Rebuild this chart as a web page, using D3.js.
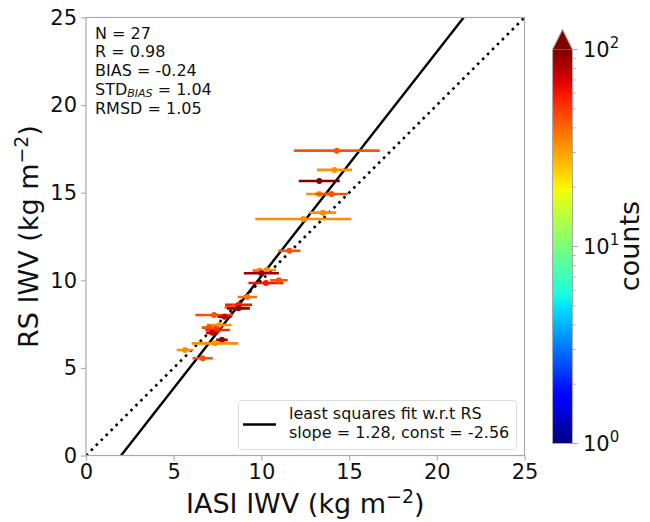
<!DOCTYPE html>
<html><head><meta charset="utf-8">
<script src="https://cdn.jsdelivr.net/npm/d3@7"></script>
<style>body{margin:0;background:#fff}svg{display:block;font-family:"DejaVu Sans",sans-serif}</style>
</head><body><svg id="c" width="650" height="522"></svg>
<script>
// ---- data ----
const iasi   = [13.3, 14.3, 14.17, 13.3, 14.0, 13.51, 12.39, 11.6, 9.9, 10.3, 10.0, 10.26, 11.0, 9.2, 8.7, 8.4, 8.69, 7.3, 7.9, 7.6, 7.0, 7.5, 7.2, 7.75, 7.35, 5.65, 6.65];
const rs     = [14.93, 17.4, 16.3, 15.67, 14.93, 13.86, 13.5, 11.69, 10.55, 10.59, 10.4, 9.85, 10.0, 9.05, 8.6, 8.45, 8.4, 8.02, 7.92, 7.45, 7.3, 7.16, 7.0, 6.6, 6.4, 6.02, 5.55];
const iasiErr= [0.75, 2.45, 1.0, 1.17, 0.93, 0.76, 2.74, 0.63, 0.4, 0.53, 1.0, 1.0, 0.5, 0.55, 0.77, 0.5, 0.65, 1.07, 0.4, 0.7, 0.4, 0.7, 0.35, 0.33, 1.33, 0.48, 0.58];
const counts = [33, 45, 33, 100, 45, 33, 33, 45, 40, 33, 90, 60, 45, 38, 60, 45, 90, 45, 80, 33, 45, 55, 75, 90, 33, 33, 45];
const axisTicks = [0, 5, 10, 15, 20, 25];
const cbarTicks = [1, 10, 100];
const cbarTickExp = ["0", "1", "2"];
const fitSlope = 1.28, fitConst = -2.56;
const statsLines = [["N = 27"], ["R = 0.98"], ["BIAS = -0.24"], ["STD", "BIAS", " = 1.04"], ["RMSD = 1.05"]];
const legendLines = ["least squares fit w.r.t RS", "slope = 1.28, const = -2.56"];

// ---- jet colormap ----
function interp(segs, t){
  for(let i=1;i<segs.length;i++){
    if(t<=segs[i][0]){const a=segs[i-1],b=segs[i];return a[1]+(b[1]-a[1])*(t-a[0])/(b[0]-a[0]);}
  }
  return segs[segs.length-1][1];
}
const R=[[0,0],[0.35,0],[0.66,1],[0.89,1],[1,0.5]];
const G=[[0,0],[0.125,0],[0.375,1],[0.64,1],[0.91,0],[1,0]];
const B=[[0,0.5],[0.11,1],[0.34,1],[0.65,0],[1,0]];
function jet(t){t=Math.max(0,Math.min(1,t));return d3.rgb(255*interp(R,t),255*interp(G,t),255*interp(B,t)).formatHex();}

const svg = d3.select("#c");
const L=86, Rt=524.5, T=17.5, Bt=455.5;
const x = d3.scaleLinear().domain([0,25]).range([L,Rt]);
const y = d3.scaleLinear().domain([0,25]).range([Bt,T]);
const norm = d3.scaleLog().domain([1,100]).range([0,1]).clamp(true);
const spine = "#aaaaaa";

const plot = svg.append("g");
svg.append("defs").append("clipPath").attr("id","clip").append("rect").attr("x",L).attr("y",T).attr("width",Rt-L).attr("height",Bt-T);
const clipG = plot.append("g").attr("clip-path","url(#clip)");

// 1:1 dotted line
clipG.append("line").attr("x1",x(0)).attr("y1",y(0)).attr("x2",x(25)).attr("y2",y(25))
  .attr("stroke","#000").attr("stroke-width",2.6).attr("stroke-dasharray","2.6,4.4");
// fit line
const x0 = -fitConst/fitSlope, x1 = (25-fitConst)/fitSlope;
clipG.append("line").attr("x1",x(x0)).attr("y1",y(fitSlope*x0+fitConst)).attr("x2",x(x1)).attr("y2",y(fitSlope*x1+fitConst))
  .attr("stroke","#000").attr("stroke-width",2.4);

// error bars + points
const pts = iasi.map((v,i)=>({x:v,y:rs[i],e:iasiErr[i],c:counts[i]}));
const pg = clipG.selectAll("g.pt").data(pts).join("g").attr("class","pt");
pg.append("line").attr("x1",d=>x(d.x-d.e)).attr("x2",d=>x(d.x+d.e)).attr("y1",d=>y(d.y)).attr("y2",d=>y(d.y))
  .attr("stroke",d=>jet(norm(d.c))).attr("stroke-width",2.6);
pg.append("circle").attr("cx",d=>x(d.x)).attr("cy",d=>y(d.y)).attr("r",3).attr("fill",d=>jet(norm(d.c)));

// axes frame
plot.append("rect").attr("x",L).attr("y",T).attr("width",Rt-L).attr("height",Bt-T).attr("fill","none").attr("stroke",spine).attr("stroke-width",1.2);

const xa = svg.append("g").attr("transform",`translate(0,${Bt})`).call(d3.axisBottom(x).tickValues(axisTicks).tickSize(5).tickPadding(4).tickFormat(d3.format("d")));
const ya = svg.append("g").attr("transform",`translate(${L},0)`).call(d3.axisLeft(y).tickValues(axisTicks).tickSize(5).tickPadding(4).tickFormat(d3.format("d")));
[xa,ya].forEach(a=>{a.select(".domain").remove();a.selectAll(".tick line").attr("stroke",spine).attr("stroke-width",1.1);
  a.selectAll(".tick text").attr("font-size",21).attr("fill","#111").attr("font-family","DejaVu Sans");});

// axis labels
function supLabel(g, base, sup, tail){
  g.append("tspan").text(base);
  g.append("tspan").text(sup).attr("font-size","0.7em").attr("dy","-0.55em");
  g.append("tspan").text(tail).attr("dy","0.385em");
}
const xl = svg.append("text").attr("x",(L+Rt)/2).attr("y",513).attr("text-anchor","middle").attr("font-size",27).attr("fill","#111");
supLabel(xl,"IASI IWV (kg m","\u22122",")");
const yl = svg.append("text").attr("transform",`translate(38,${(T+Bt)/2}) rotate(-90)`).attr("text-anchor","middle").attr("font-size",27).attr("fill","#111");
supLabel(yl,"RS IWV (kg m","\u22122",")");

// stats text
const st = svg.append("g");
statsLines.forEach((ln,i)=>{
  const t = st.append("text").attr("x",95).attr("y",38.5+i*18.8).attr("font-size",16).attr("fill","#111");
  if(ln.length===1){t.text(ln[0]);}
  else{t.append("tspan").text(ln[0]);t.append("tspan").text(ln[1]).attr("font-size",11).attr("font-style","italic").attr("dy",2);
       t.append("tspan").text(ln[2]).attr("dy",-2);}
});

// legend
const lg = svg.append("g");
lg.append("rect").attr("x",238.5).attr("y",400.5).attr("width",278).attr("height",49).attr("rx",3).attr("fill","#fff").attr("fill-opacity",0.8).attr("stroke","#dcdcdc").attr("stroke-width",1);
lg.append("line").attr("x1",243).attr("x2",276).attr("y1",424.5).attr("y2",424.5).attr("stroke","#000").attr("stroke-width",2.4);
legendLines.forEach((s,i)=>lg.append("text").attr("x",289).attr("y",418.5+i*19.5).attr("font-size",16).attr("fill","#111").text(s));

// colorbar
const cbL=552.5, cbW=20, cbT=49.5, cbB=443.5, triTop=29.5;
const cy = d3.scaleLog().domain([1,100]).range([cbB,cbT]);
const grad = svg.select("defs").append("linearGradient").attr("id","jet").attr("x1",0).attr("y1",1).attr("x2",0).attr("y2",0);
d3.range(0,1.0001,0.02).forEach(t=>grad.append("stop").attr("offset",t).attr("stop-color",jet(t)));
svg.append("rect").attr("x",cbL).attr("y",cbT).attr("width",cbW).attr("height",cbB-cbT).attr("fill","url(#jet)");
svg.append("path").attr("d",`M${cbL},${cbT}L${cbL+cbW/2},${triTop}L${cbL+cbW},${cbT}Z`).attr("fill",jet(1));
svg.append("path").attr("d",`M${cbL},${cbB}L${cbL},${cbT}L${cbL+cbW/2},${triTop}L${cbL+cbW},${cbT}L${cbL+cbW},${cbB}Z`).attr("fill","none").attr("stroke",spine).attr("stroke-width",1.1);
const minor=[];[1,10].forEach(d=>{for(let k=2;k<=9;k++)minor.push(d*k);});
svg.selectAll("line.mn").data(minor).join("line").attr("class","mn").attr("x1",cbL+cbW).attr("x2",cbL+cbW+3).attr("y1",d=>cy(d)).attr("y2",d=>cy(d)).attr("stroke",spine).attr("stroke-width",1);
svg.selectAll("line.mj").data(cbarTicks).join("line").attr("class","mj").attr("x1",cbL+cbW).attr("x2",cbL+cbW+5).attr("y1",d=>cy(d)).attr("y2",d=>cy(d)).attr("stroke",spine).attr("stroke-width",1.1);
cbarTicks.forEach((v,i)=>{
  const t = svg.append("text").attr("x",583).attr("y",cy(v)+7.5).attr("font-size",21).attr("fill","#111");
  t.append("tspan").text("10");
  t.append("tspan").text(cbarTickExp[i]).attr("font-size",15).attr("dy",-9);
});
svg.append("text").attr("transform",`translate(639,246) rotate(-90)`).attr("text-anchor","middle").attr("font-size",27).attr("fill","#111").text("counts");
</script></body></html>
